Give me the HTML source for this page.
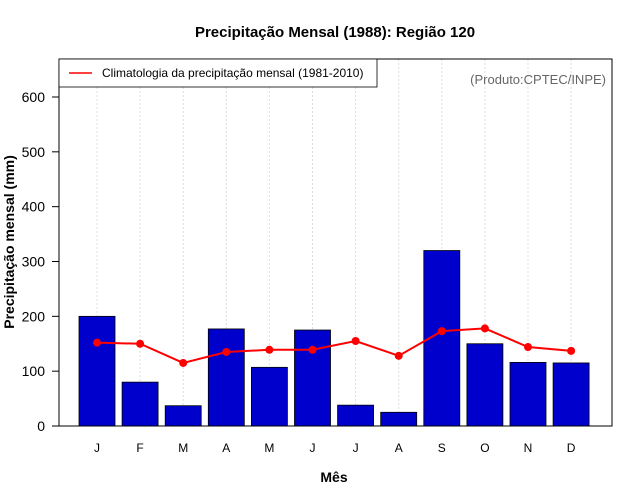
<!DOCTYPE html>
<html><head><meta charset="utf-8"><style>
body{margin:0;background:#fff;}
svg{display:block;font-family:"Liberation Sans",sans-serif;}
</style></head><body>
<svg id="chart" width="640" height="500" viewBox="0 0 640 500">
<rect width="640" height="500" fill="#fff"/>
<text x="335" y="37" text-anchor="middle" font-size="15" font-weight="bold">Precipitação Mensal (1988): Região 120</text>
<g id="grid"></g>
<g id="bars"></g>
<g id="line"></g>
<g id="axes"></g>
<rect x="59" y="59" width="553" height="367" fill="none" stroke="#000"/>
<g>
<rect x="59" y="59" width="318" height="28" fill="#fff" stroke="#000" stroke-width="0.8"/>
<line x1="69" y1="73" x2="92" y2="73" stroke="#f00" stroke-width="1.6"/>
<text x="102" y="77" font-size="12">Climatologia da precipitação mensal (1981-2010)</text>
</g>
<text x="606" y="84" text-anchor="end" font-size="13" fill="#666">(Produto:CPTEC/INPE)</text>
<text transform="translate(14,242) rotate(-90)" text-anchor="middle" font-size="14" font-weight="bold">Precipitação mensal (mm)</text>
<text x="334" y="482" text-anchor="middle" font-size="14" font-weight="bold">Mês</text>
</svg>
<script>
const months=["J","F","M","A","M","J","J","A","S","O","N","D"];
const precip=[200,80,37,177,107,175,38,25,320,150,116,115];
const climatology=[152,150,115,135,139,139,155,128,173,178,144,137];
const yTicks=[0,100,200,300,400,500,600];
const NS="http://www.w3.org/2000/svg";
const x=i=>97+i*43.1;
const y=v=>426-v*(329/600);
function mk(t,a,p){const e=document.createElementNS(NS,t);for(const k in a)e.setAttribute(k,a[k]);p.appendChild(e);return e;}
const grid=document.getElementById('grid'),bars=document.getElementById('bars'),line=document.getElementById('line'),axes=document.getElementById('axes');
months.forEach((m,i)=>{
 const g=mk('line',{x1:x(i),x2:x(i),y1:59,y2:426,stroke:"#ddd","stroke-dasharray":"2,2"},grid);
 
 
 const b=mk('rect',{x:x(i)-18,y:y(precip[i]),width:36,height:y(0)-y(precip[i]),fill:"#0000cd",stroke:"#000","stroke-width":0.8},bars);
 
 
 const t=mk('text',{x:x(i),y:452,"text-anchor":"middle","font-size":12},axes);
 t.textContent=m;
 
 
});
const pl=mk('polyline',{points:climatology.map((v,i)=>x(i)+","+y(v)).join(" "),fill:"none",stroke:"#f00","stroke-width":2},line);


climatology.forEach((v,i)=>{
 const c=mk('circle',{cx:x(i),cy:y(v),r:4,fill:"#f00"},line);
 
 
});
yTicks.forEach(v=>{
 const l=mk('line',{x1:52,x2:59,y1:y(v),y2:y(v),stroke:"#000"},axes);
 
 
 const t=mk('text',{x:45,y:y(v)+5,"text-anchor":"end","font-size":14},axes);
 t.textContent=v;
 
 
});
</script>
</body></html>
